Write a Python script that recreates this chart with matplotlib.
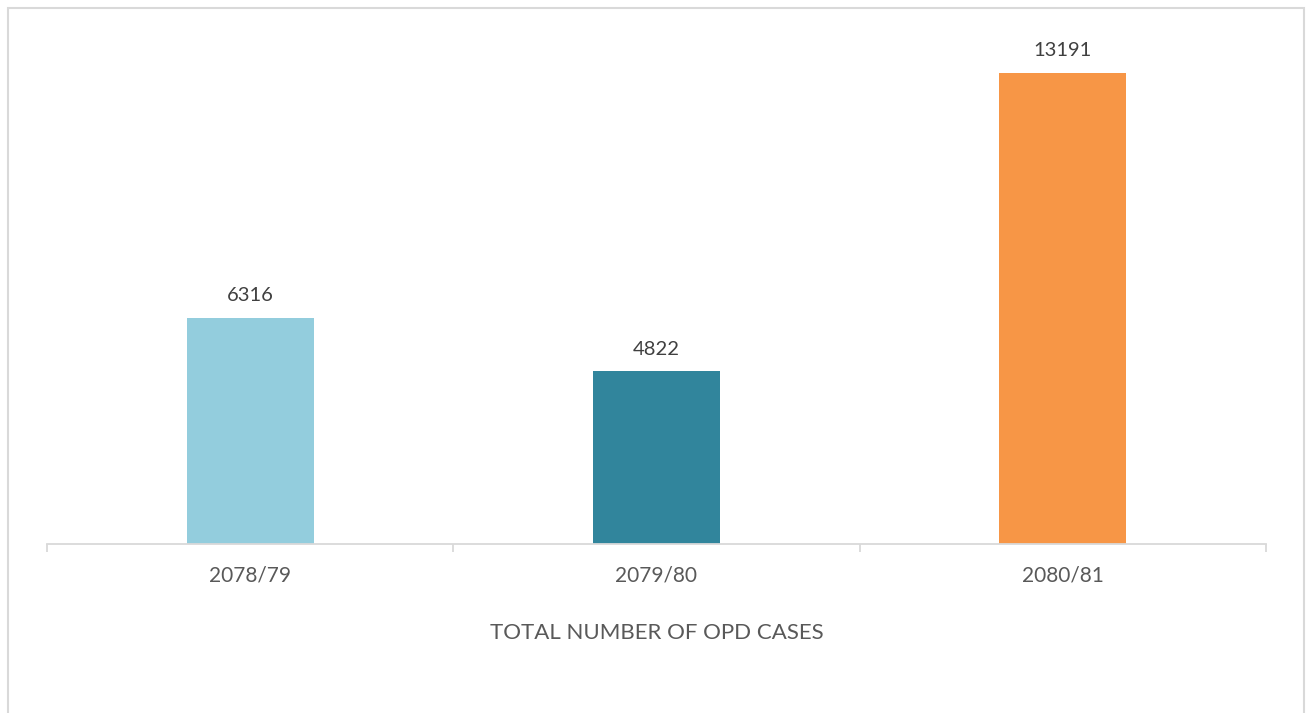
import matplotlib
matplotlib.use("Agg")
import matplotlib.pyplot as plt
from matplotlib.patches import Rectangle

categories = ["2078/79", "2079/80", "2080/81"]
values = [6316, 4822, 13191]
colors = ["#93CDDD", "#31859C", "#F79646"]
xlabel = "TOTAL NUMBER OF OPD CASES"

plt.rcParams['font.family'] = ['Lato', 'DejaVu Sans']
W, H = 1306, 713
fig = plt.figure(figsize=(W/100, H/100), dpi=100)
ax = fig.add_axes([47/W, (H-543.5)/H, (1266-47)/W, (543.5-44)/H])

x = list(range(len(categories)))
bars = ax.bar(x, values, width=0.3125, color=colors)
ax.set_xlim(-0.5, len(categories)-0.5)
ax.set_ylim(0, 14000)

for xi, v in zip(x, values):
    ax.annotate(str(v), (xi, v), xytext=(0, 10), textcoords="offset points",
                ha="center", va="bottom", fontsize=14.5, color="#404040")

for s in ["top", "right", "left"]:
    ax.spines[s].set_visible(False)
ax.spines["bottom"].set_color("#d9d9d9")
ax.spines["bottom"].set_linewidth(1.3)
ax.set_yticks([])
ax.set_xticks(x)
ax.set_xticklabels(categories, fontsize=15, color="#595959")
ax.tick_params(axis="x", which="major", length=0, pad=15.5)
ax.set_xticks([-0.5 + i for i in range(len(categories)+1)], minor=True)
ax.tick_params(axis="x", which="minor", length=6, width=1.3, color="#d9d9d9", direction="out")
ax.set_xlabel(xlabel, fontsize=16, color="#595959", labelpad=27)

fig.patches.append(Rectangle((7.5/W, -0.05), (1304-7.5)/W, (H-7.5)/H + 0.05,
                             transform=fig.transFigure, fill=False,
                             edgecolor="#d9d9d9", linewidth=1.5))

fig.savefig("out.png", dpi=100)
